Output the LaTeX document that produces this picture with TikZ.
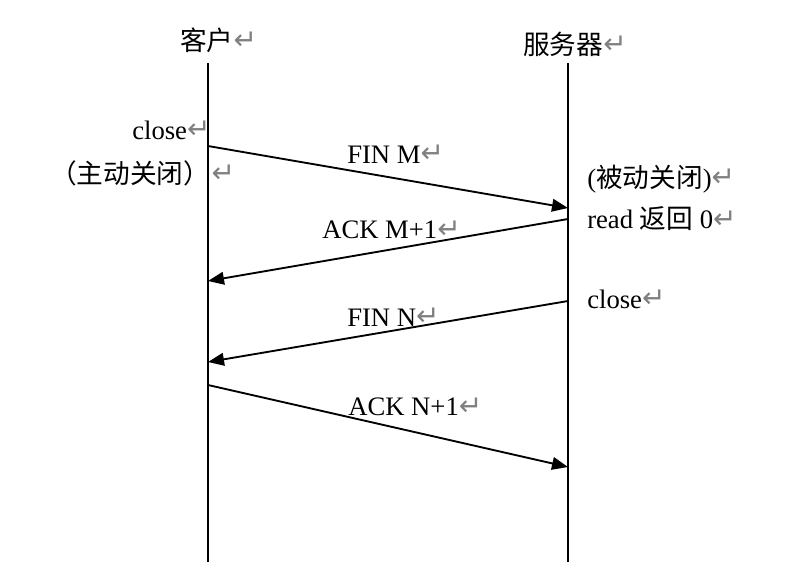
\documentclass[tikz,border=0pt]{standalone}
\usepackage{fontspec}
\setmainfont{Liberation Serif}
\newfontfamily\cjk{Noto Sans CJK SC}
\newfontfamily\symfont{DejaVu Sans}
\usepackage{xcolor}
\usepackage{tikz}
\usetikzlibrary{arrows.meta}
\newcommand{\ret}{{\fontsize{21pt}{21pt}\symfont\color{gray}\raisebox{0.5pt}{↵}}}

\begin{document}
\begin{tikzpicture}[x=0.75pt,y=-0.75pt,
  lbl/.style={inner sep=0pt,anchor=west,font=\fontsize{20pt}{24pt}\selectfont},
  lifeline/.style={line width=1.4pt},
  msg/.style={line width=1.4pt,-{Triangle[length=12pt,width=9.5pt]}}]
\useasboundingbox (0,0) rectangle (803,579);

\node[lbl] (client) at (180,40) {{\cjk 客户}\ret};
\node[lbl] (server) at (523,44) {{\cjk 服务器}\ret};

\coordinate (ctop) at (208,63);
\coordinate (cbot) at (208,562);
\coordinate (stop) at (568,63);
\coordinate (sbot) at (568,562);
\draw[lifeline] (ctop) -- (cbot);
\draw[lifeline] (stop) -- (sbot);

\node[lbl] (cclose) at (132,130) {close\ret};
\node[lbl] (active) at (50,173) {{\cjk （主动关闭）}\hspace{1pt}\ret};
\node[lbl] (passive) at (587,179) {({\cjk 被动关闭})\ret};
\node[lbl] (read) at (587,219) {read {\cjk 返回} 0\ret};
\node[lbl] (sclose) at (587,299) {close\ret};

\coordinate (c1) at (208,146);
\coordinate (s1) at (568,208);
\coordinate (s2) at (568,219);
\coordinate (c2) at (208,281);
\coordinate (s3) at (568,301);
\coordinate (c3) at (208,362);
\coordinate (c4) at (208,385);
\coordinate (s4) at (568,467);

\draw[msg] (c1) -- (s1);
\draw[msg] (s2) -- (c2);
\draw[msg] (s3) -- (c3);
\draw[msg] (c4) -- (s4);

\node[lbl] (finm) at (347,154) {FIN M\ret};
\node[lbl] (ackm) at (322,230) {ACK M+1\ret};
\node[lbl] (finn) at (347,317) {FIN N\ret};
\node[lbl] (ackn) at (348,407) {ACK N+1\ret};
\end{tikzpicture}
\end{document}
